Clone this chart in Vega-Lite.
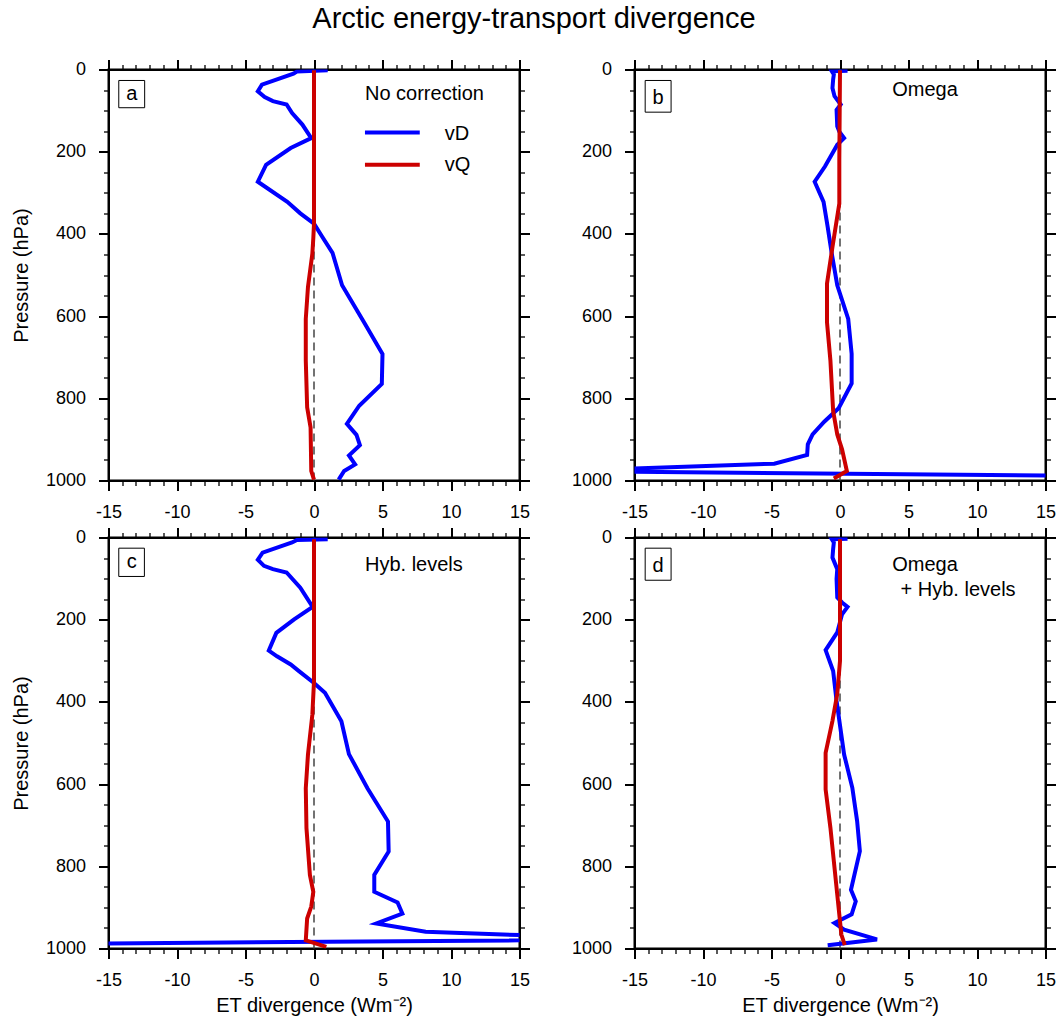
{
  "$schema": "https://vega.github.io/schema/vega-lite/v6.json",
  "padding": {"left": 9.5, "top": 4.5, "right": 0, "bottom": 0},
  "background": "white",
  "title": {"text": "Arctic energy-transport divergence", "fontSize": 29, "font": "Liberation Sans", "fontWeight": "normal", "color": "black", "anchor": "middle", "offset": 24},
  "config": {
    "view": {"stroke": "black", "strokeWidth": 2},
    "axis": {"grid": false, "labelFont": "Liberation Sans", "labelFontSize": 18, "labelColor": "black", "titleFont": "Liberation Sans", "titleFontSize": 20, "titleFontWeight": "normal", "titleColor": "black", "domainColor": "black", "domainWidth": 2, "tickColor": "black", "labelOverlap": false, "labelFlush": false, "labelBound": false, "labelPadding": 13}
  },
  "datasets": {
    "a": [
      {"s":"vD","p":2,"x":1.0},{"s":"vD","p":5,"x":-1.25},{"s":"vD","p":10,"x":-1.5},{"s":"vD","p":37,"x":-3.8},{"s":"vD","p":53,"x":-4.1},{"s":"vD","p":67,"x":-3.6},{"s":"vD","p":77,"x":-3.0},{"s":"vD","p":85,"x":-2.0},{"s":"vD","p":106,"x":-1.6},{"s":"vD","p":134,"x":-0.85},{"s":"vD","p":167,"x":-0.2},{"s":"vD","p":191,"x":-1.7},{"s":"vD","p":232,"x":-3.5},{"s":"vD","p":273,"x":-4.1},{"s":"vD","p":322,"x":-1.95},{"s":"vD","p":350,"x":-1.0},{"s":"vD","p":375,"x":0},{"s":"vD","p":407,"x":0.6},{"s":"vD","p":446,"x":1.35},{"s":"vD","p":525,"x":2.05},{"s":"vD","p":615,"x":3.65},{"s":"vD","p":692,"x":5.0},{"s":"vD","p":765,"x":4.95},{"s":"vD","p":818,"x":3.3},{"s":"vD","p":862,"x":2.4},{"s":"vD","p":889,"x":3.1},{"s":"vD","p":914,"x":3.35},{"s":"vD","p":939,"x":2.55},{"s":"vD","p":961,"x":3.0},{"s":"vD","p":977,"x":2.2},{"s":"vD","p":998,"x":1.8},
      {"s":"vQ","p":2,"x":0},{"s":"vQ","p":375,"x":0},{"s":"vQ","p":410,"x":-0.05},{"s":"vQ","p":448,"x":-0.12},{"s":"vQ","p":529,"x":-0.44},{"s":"vQ","p":607,"x":-0.6},{"s":"vQ","p":708,"x":-0.6},{"s":"vQ","p":822,"x":-0.5},{"s":"vQ","p":871,"x":-0.25},{"s":"vQ","p":977,"x":-0.2},{"s":"vQ","p":998,"x":0}
    ],
    "b": [
      {"s":"vD","p":3,"x":0.55},{"s":"vD","p":4,"x":-0.6},{"s":"vD","p":12,"x":-0.45},{"s":"vD","p":24,"x":-0.5},{"s":"vD","p":45,"x":-0.55},{"s":"vD","p":65,"x":-0.4},{"s":"vD","p":85,"x":0.05},{"s":"vD","p":98,"x":-0.25},{"s":"vD","p":138,"x":-0.2},{"s":"vD","p":151,"x":-0.05},{"s":"vD","p":167,"x":0.3},{"s":"vD","p":183,"x":-0.2},{"s":"vD","p":204,"x":-0.55},{"s":"vD","p":236,"x":-1.1},{"s":"vD","p":273,"x":-1.85},{"s":"vD","p":322,"x":-1.2},{"s":"vD","p":383,"x":-0.9},{"s":"vD","p":448,"x":-0.6},{"s":"vD","p":525,"x":-0.2},{"s":"vD","p":607,"x":0.6},{"s":"vD","p":692,"x":0.85},{"s":"vD","p":764,"x":0.85},{"s":"vD","p":824,"x":-0.1},{"s":"vD","p":857,"x":-1.15},{"s":"vD","p":888,"x":-2.0},{"s":"vD","p":912,"x":-2.35},{"s":"vD","p":938,"x":-2.4},{"s":"vD","p":959,"x":-4.8},{"s":"vD","p":977.4,"x":-20.4},{"s":"vD","p":992.5,"x":30},
      {"s":"vQ","p":2,"x":0},{"s":"vQ","p":220,"x":-0.05},{"s":"vQ","p":326,"x":-0.05},{"s":"vQ","p":432,"x":-0.55},{"s":"vQ","p":521,"x":-0.95},{"s":"vQ","p":615,"x":-0.95},{"s":"vQ","p":708,"x":-0.7},{"s":"vQ","p":831,"x":-0.5},{"s":"vQ","p":888,"x":-0.2},{"s":"vQ","p":924,"x":0.15},{"s":"vQ","p":977,"x":0.5},{"s":"vQ","p":995,"x":-0.45}
    ],
    "c": [
      {"s":"vD","p":4,"x":1.0},{"s":"vD","p":6,"x":-1.25},{"s":"vD","p":12,"x":-1.6},{"s":"vD","p":37,"x":-3.75},{"s":"vD","p":54,"x":-4.1},{"s":"vD","p":69,"x":-3.65},{"s":"vD","p":77,"x":-3.0},{"s":"vD","p":85,"x":-2.0},{"s":"vD","p":122,"x":-1.0},{"s":"vD","p":169,"x":-0.1},{"s":"vD","p":199,"x":-1.45},{"s":"vD","p":232,"x":-2.75},{"s":"vD","p":275,"x":-3.3},{"s":"vD","p":289,"x":-2.7},{"s":"vD","p":309,"x":-1.7},{"s":"vD","p":325,"x":-1.1},{"s":"vD","p":354,"x":0},{"s":"vD","p":378,"x":0.8},{"s":"vD","p":447,"x":2.0},{"s":"vD","p":527,"x":2.55},{"s":"vD","p":610,"x":3.9},{"s":"vD","p":691,"x":5.4},{"s":"vD","p":764,"x":5.45},{"s":"vD","p":821,"x":4.4},{"s":"vD","p":862,"x":4.4},{"s":"vD","p":888,"x":6.1},{"s":"vD","p":915,"x":6.45},{"s":"vD","p":939,"x":4.55},{"s":"vD","p":959,"x":8.15},{"s":"vD","p":978,"x":23.7},{"s":"vD","p":991.5,"x":-30},
      {"s":"vQ","p":4,"x":0},{"s":"vQ","p":350,"x":0},{"s":"vQ","p":431,"x":-0.12},{"s":"vQ","p":528,"x":-0.44},{"s":"vQ","p":610,"x":-0.6},{"s":"vQ","p":707,"x":-0.55},{"s":"vQ","p":821,"x":-0.3},{"s":"vQ","p":862,"x":-0.05},{"s":"vQ","p":898,"x":-0.2},{"s":"vQ","p":927,"x":-0.5},{"s":"vQ","p":980,"x":-0.6},{"s":"vQ","p":996,"x":0.9}
    ],
    "d": [
      {"s":"vD","p":3,"x":0.55},{"s":"vD","p":4,"x":-0.6},{"s":"vD","p":12,"x":-0.45},{"s":"vD","p":28,"x":-0.5},{"s":"vD","p":49,"x":-0.55},{"s":"vD","p":69,"x":-0.3},{"s":"vD","p":77,"x":-0.2},{"s":"vD","p":101,"x":-0.25},{"s":"vD","p":146,"x":-0.2},{"s":"vD","p":158,"x":0.15},{"s":"vD","p":169,"x":0.55},{"s":"vD","p":187,"x":0.15},{"s":"vD","p":231,"x":-0.2},{"s":"vD","p":274,"x":-1.05},{"s":"vD","p":325,"x":-0.5},{"s":"vD","p":398,"x":-0.25},{"s":"vD","p":528,"x":0.3},{"s":"vD","p":609,"x":0.9},{"s":"vD","p":690,"x":1.25},{"s":"vD","p":763,"x":1.45},{"s":"vD","p":857,"x":0.8},{"s":"vD","p":885,"x":1.15},{"s":"vD","p":917,"x":0.85},{"s":"vD","p":938,"x":-0.4},{"s":"vD","p":954,"x":0.3},{"s":"vD","p":978,"x":2.7},{"s":"vD","p":992,"x":-0.9},
      {"s":"vQ","p":4,"x":0},{"s":"vQ","p":300,"x":0},{"s":"vQ","p":381,"x":-0.2},{"s":"vQ","p":446,"x":-0.55},{"s":"vQ","p":524,"x":-1.05},{"s":"vQ","p":613,"x":-1.05},{"s":"vQ","p":706,"x":-0.7},{"s":"vQ","p":869,"x":-0.2},{"s":"vQ","p":966,"x":0.1},{"s":"vQ","p":992,"x":0.35}
    ]
  },
  "columns": 2,
  "bounds": "flush",
  "spacing": {"row": 57, "column": 115},
  "concat": [
    {
      "width": 411, "height": 411,
      "resolve": {"axis": {"x": "independent", "y": "independent"}},
      "layer": [
        {"data": {"values": [{}]}, "mark": {"type": "rule", "strokeDash": [8, 5], "color": "#444444", "strokeWidth": 1.5},
         "encoding": {
           "x": {"datum": 0, "type": "quantitative", "scale": {"domain": [-15, 15], "nice": false, "zero": false}, "axis": {"orient": "top", "values": [-15,-14,-13,-12,-11,-10,-9,-8,-7,-6,-5,-4,-3,-2,-1,0,1,2,3,4,5,6,7,8,9,10,11,12,13,14,15], "labels": false, "title": null, "tickSize": {"condition": {"test": "datum.value % 5 === 0", "value": 10}, "value": 5}, "tickWidth": {"condition": {"test": "datum.value % 5 === 0", "value": 2}, "value": 1.3}}},
           "y": {"datum": 0, "type": "quantitative", "scale": {"domain": [0, 1000], "nice": false, "reverse": true}, "axis": {"orient": "right", "values": [0,50,100,150,200,250,300,350,400,450,500,550,600,650,700,750,800,850,900,950,1000], "labels": false, "title": null, "tickSize": {"condition": {"test": "datum.value % 200 === 0", "value": 10}, "value": 5}, "tickWidth": {"condition": {"test": "datum.value % 200 === 0", "value": 2}, "value": 1.3}}},
           "y2": {"datum": 1000}
         }},
        {"data": {"name": "a"}, "mark": {"type": "line", "strokeWidth": 4, "clip": true},
         "encoding": {
           "x": {"field": "x", "type": "quantitative", "axis": {"orient": "bottom", "values": [-15,-14,-13,-12,-11,-10,-9,-8,-7,-6,-5,-4,-3,-2,-1,0,1,2,3,4,5,6,7,8,9,10,11,12,13,14,15], "labelExpr": "datum.value % 5 === 0 ? '' + datum.value : ''", "title": null, "tickSize": {"condition": {"test": "datum.value % 5 === 0", "value": 10}, "value": 5}, "tickWidth": {"condition": {"test": "datum.value % 5 === 0", "value": 2}, "value": 1.3}}},
           "y": {"field": "p", "type": "quantitative", "axis": {"orient": "left", "values": [0,50,100,150,200,250,300,350,400,450,500,550,600,650,700,750,800,850,900,950,1000], "labelExpr": "datum.value % 200 === 0 ? '' + datum.value : ''", "title": "Pressure (hPa)", "titlePadding": 14, "tickSize": {"condition": {"test": "datum.value % 200 === 0", "value": 10}, "value": 5}, "tickWidth": {"condition": {"test": "datum.value % 200 === 0", "value": 2}, "value": 1.3}}},
           "color": {"field": "s", "type": "nominal", "scale": {"domain": ["vD", "vQ"], "range": ["#0000ff", "#cc0000"]}, "legend": null},
           "order": {"field": "p", "type": "quantitative"}
         }},
        {"data": {"values": [{}]}, "mark": {"type": "rect", "fill": "white", "stroke": "black", "strokeWidth": 1},
         "encoding": {"x": {"datum": -14.25, "type": "quantitative", "axis": null}, "x2": {"datum": -12.36}, "y": {"datum": 26.7, "type": "quantitative", "axis": null}, "y2": {"datum": 93}}},
        {"data": {"values": [{}]}, "mark": {"type": "text", "align": "center", "baseline": "alphabetic", "fontSize": 20, "font": "Liberation Sans", "color": "black"},
         "encoding": {"x": {"datum": -13.3, "type": "quantitative", "axis": null}, "y": {"datum": 73.6, "type": "quantitative", "axis": null}, "text": {"value": "a"}}},
        {"data": {"values": [{}]}, "mark": {"type": "text", "align": "left", "baseline": "alphabetic", "fontSize": 20, "font": "Liberation Sans", "color": "black"},
         "encoding": {"x": {"datum": 3.72, "type": "quantitative", "axis": null}, "y": {"datum": 73, "type": "quantitative", "axis": null}, "text": {"value": "No correction"}}},
        {"data": {"values": [{}]}, "mark": {"type": "rule", "color": "#0000ff", "strokeWidth": 4},
         "encoding": {"x": {"datum": 3.72, "type": "quantitative", "axis": null}, "x2": {"datum": 7.72}, "y": {"datum": 153, "type": "quantitative", "axis": null}}},
        {"data": {"values": [{}]}, "mark": {"type": "rule", "color": "#cc0000", "strokeWidth": 4},
         "encoding": {"x": {"datum": 3.72, "type": "quantitative", "axis": null}, "x2": {"datum": 7.72}, "y": {"datum": 231.6, "type": "quantitative", "axis": null}}},
        {"data": {"values": [{}]}, "mark": {"type": "text", "align": "left", "baseline": "alphabetic", "fontSize": 20, "font": "Liberation Sans", "color": "black"},
         "encoding": {"x": {"datum": 9.54, "type": "quantitative", "axis": null}, "y": {"datum": 172.5, "type": "quantitative", "axis": null}, "text": {"value": "vD"}}},
        {"data": {"values": [{}]}, "mark": {"type": "text", "align": "left", "baseline": "alphabetic", "fontSize": 20, "font": "Liberation Sans", "color": "black"},
         "encoding": {"x": {"datum": 9.54, "type": "quantitative", "axis": null}, "y": {"datum": 248, "type": "quantitative", "axis": null}, "text": {"value": "vQ"}}}
      ]
    },
    {
      "width": 411, "height": 411,
      "resolve": {"axis": {"x": "independent", "y": "independent"}},
      "layer": [
        {"data": {"values": [{}]}, "mark": {"type": "rule", "strokeDash": [8, 5], "color": "#444444", "strokeWidth": 1.5},
         "encoding": {
           "x": {"datum": 0, "type": "quantitative", "scale": {"domain": [-15, 15], "nice": false, "zero": false}, "axis": {"orient": "top", "values": [-15,-14,-13,-12,-11,-10,-9,-8,-7,-6,-5,-4,-3,-2,-1,0,1,2,3,4,5,6,7,8,9,10,11,12,13,14,15], "labels": false, "title": null, "tickSize": {"condition": {"test": "datum.value % 5 === 0", "value": 10}, "value": 5}, "tickWidth": {"condition": {"test": "datum.value % 5 === 0", "value": 2}, "value": 1.3}}},
           "y": {"datum": 0, "type": "quantitative", "scale": {"domain": [0, 1000], "nice": false, "reverse": true}, "axis": {"orient": "right", "values": [0,50,100,150,200,250,300,350,400,450,500,550,600,650,700,750,800,850,900,950,1000], "labels": false, "title": null, "tickSize": {"condition": {"test": "datum.value % 200 === 0", "value": 10}, "value": 5}, "tickWidth": {"condition": {"test": "datum.value % 200 === 0", "value": 2}, "value": 1.3}}},
           "y2": {"datum": 1000}
         }},
        {"data": {"name": "b"}, "mark": {"type": "line", "strokeWidth": 4, "clip": true},
         "encoding": {
           "x": {"field": "x", "type": "quantitative", "axis": {"orient": "bottom", "values": [-15,-14,-13,-12,-11,-10,-9,-8,-7,-6,-5,-4,-3,-2,-1,0,1,2,3,4,5,6,7,8,9,10,11,12,13,14,15], "labelExpr": "datum.value % 5 === 0 ? '' + datum.value : ''", "title": null, "tickSize": {"condition": {"test": "datum.value % 5 === 0", "value": 10}, "value": 5}, "tickWidth": {"condition": {"test": "datum.value % 5 === 0", "value": 2}, "value": 1.3}}},
           "y": {"field": "p", "type": "quantitative", "axis": {"orient": "left", "values": [0,50,100,150,200,250,300,350,400,450,500,550,600,650,700,750,800,850,900,950,1000], "labelExpr": "datum.value % 200 === 0 ? '' + datum.value : ''", "title": null, "tickSize": {"condition": {"test": "datum.value % 200 === 0", "value": 10}, "value": 5}, "tickWidth": {"condition": {"test": "datum.value % 200 === 0", "value": 2}, "value": 1.3}}},
           "color": {"field": "s", "type": "nominal", "scale": {"domain": ["vD", "vQ"], "range": ["#0000ff", "#cc0000"]}, "legend": null},
           "order": {"field": "p", "type": "quantitative"}
         }},
        {"data": {"values": [{}]}, "mark": {"type": "rect", "fill": "white", "stroke": "black", "strokeWidth": 1},
         "encoding": {"x": {"datum": -14.22, "type": "quantitative", "axis": null}, "x2": {"datum": -12.33}, "y": {"datum": 26.7, "type": "quantitative", "axis": null}, "y2": {"datum": 103.8}}},
        {"data": {"values": [{}]}, "mark": {"type": "text", "align": "center", "baseline": "alphabetic", "fontSize": 20, "font": "Liberation Sans", "color": "black"},
         "encoding": {"x": {"datum": -13.28, "type": "quantitative", "axis": null}, "y": {"datum": 83.4, "type": "quantitative", "axis": null}, "text": {"value": "b"}}},
        {"data": {"values": [{}]}, "mark": {"type": "text", "align": "left", "baseline": "alphabetic", "fontSize": 20, "font": "Liberation Sans", "color": "black"},
         "encoding": {"x": {"datum": 3.81, "type": "quantitative", "axis": null}, "y": {"datum": 65, "type": "quantitative", "axis": null}, "text": {"value": "Omega"}}}
      ]
    },
    {
      "width": 411, "height": 411,
      "resolve": {"axis": {"x": "independent", "y": "independent"}},
      "layer": [
        {"data": {"values": [{}]}, "mark": {"type": "rule", "strokeDash": [8, 5], "color": "#444444", "strokeWidth": 1.5},
         "encoding": {
           "x": {"datum": 0, "type": "quantitative", "scale": {"domain": [-15, 15], "nice": false, "zero": false}, "axis": {"orient": "top", "values": [-15,-14,-13,-12,-11,-10,-9,-8,-7,-6,-5,-4,-3,-2,-1,0,1,2,3,4,5,6,7,8,9,10,11,12,13,14,15], "labels": false, "title": null, "tickSize": {"condition": {"test": "datum.value % 5 === 0", "value": 10}, "value": 5}, "tickWidth": {"condition": {"test": "datum.value % 5 === 0", "value": 2}, "value": 1.3}}},
           "y": {"datum": 0, "type": "quantitative", "scale": {"domain": [0, 1000], "nice": false, "reverse": true}, "axis": {"orient": "right", "values": [0,50,100,150,200,250,300,350,400,450,500,550,600,650,700,750,800,850,900,950,1000], "labels": false, "title": null, "tickSize": {"condition": {"test": "datum.value % 200 === 0", "value": 10}, "value": 5}, "tickWidth": {"condition": {"test": "datum.value % 200 === 0", "value": 2}, "value": 1.3}}},
           "y2": {"datum": 1000}
         }},
        {"data": {"name": "c"}, "mark": {"type": "line", "strokeWidth": 4, "clip": true},
         "encoding": {
           "x": {"field": "x", "type": "quantitative", "axis": {"orient": "bottom", "values": [-15,-14,-13,-12,-11,-10,-9,-8,-7,-6,-5,-4,-3,-2,-1,0,1,2,3,4,5,6,7,8,9,10,11,12,13,14,15], "labelExpr": "datum.value % 5 === 0 ? '' + datum.value : ''", "title": "ET divergence (Wm⁻²)", "titlePadding": 6, "tickSize": {"condition": {"test": "datum.value % 5 === 0", "value": 10}, "value": 5}, "tickWidth": {"condition": {"test": "datum.value % 5 === 0", "value": 2}, "value": 1.3}}},
           "y": {"field": "p", "type": "quantitative", "axis": {"orient": "left", "values": [0,50,100,150,200,250,300,350,400,450,500,550,600,650,700,750,800,850,900,950,1000], "labelExpr": "datum.value % 200 === 0 ? '' + datum.value : ''", "title": "Pressure (hPa)", "titlePadding": 14, "tickSize": {"condition": {"test": "datum.value % 200 === 0", "value": 10}, "value": 5}, "tickWidth": {"condition": {"test": "datum.value % 200 === 0", "value": 2}, "value": 1.3}}},
           "color": {"field": "s", "type": "nominal", "scale": {"domain": ["vD", "vQ"], "range": ["#0000ff", "#cc0000"]}, "legend": null},
           "order": {"field": "p", "type": "quantitative"}
         }},
        {"data": {"values": [{}]}, "mark": {"type": "rect", "fill": "white", "stroke": "black", "strokeWidth": 1},
         "encoding": {"x": {"datum": -14.25, "type": "quantitative", "axis": null}, "x2": {"datum": -12.38}, "y": {"datum": 26, "type": "quantitative", "axis": null}, "y2": {"datum": 94.8}}},
        {"data": {"values": [{}]}, "mark": {"type": "text", "align": "center", "baseline": "alphabetic", "fontSize": 20, "font": "Liberation Sans", "color": "black"},
         "encoding": {"x": {"datum": -13.3, "type": "quantitative", "axis": null}, "y": {"datum": 74.6, "type": "quantitative", "axis": null}, "text": {"value": "c"}}},
        {"data": {"values": [{}]}, "mark": {"type": "text", "align": "left", "baseline": "alphabetic", "fontSize": 20, "font": "Liberation Sans", "color": "black"},
         "encoding": {"x": {"datum": 3.72, "type": "quantitative", "axis": null}, "y": {"datum": 81, "type": "quantitative", "axis": null}, "text": {"value": "Hyb. levels"}}}
      ]
    },
    {
      "width": 411, "height": 411,
      "resolve": {"axis": {"x": "independent", "y": "independent"}},
      "layer": [
        {"data": {"values": [{}]}, "mark": {"type": "rule", "strokeDash": [8, 5], "color": "#444444", "strokeWidth": 1.5},
         "encoding": {
           "x": {"datum": 0, "type": "quantitative", "scale": {"domain": [-15, 15], "nice": false, "zero": false}, "axis": {"orient": "top", "values": [-15,-14,-13,-12,-11,-10,-9,-8,-7,-6,-5,-4,-3,-2,-1,0,1,2,3,4,5,6,7,8,9,10,11,12,13,14,15], "labels": false, "title": null, "tickSize": {"condition": {"test": "datum.value % 5 === 0", "value": 10}, "value": 5}, "tickWidth": {"condition": {"test": "datum.value % 5 === 0", "value": 2}, "value": 1.3}}},
           "y": {"datum": 0, "type": "quantitative", "scale": {"domain": [0, 1000], "nice": false, "reverse": true}, "axis": {"orient": "right", "values": [0,50,100,150,200,250,300,350,400,450,500,550,600,650,700,750,800,850,900,950,1000], "labels": false, "title": null, "tickSize": {"condition": {"test": "datum.value % 200 === 0", "value": 10}, "value": 5}, "tickWidth": {"condition": {"test": "datum.value % 200 === 0", "value": 2}, "value": 1.3}}},
           "y2": {"datum": 1000}
         }},
        {"data": {"name": "d"}, "mark": {"type": "line", "strokeWidth": 4, "clip": true},
         "encoding": {
           "x": {"field": "x", "type": "quantitative", "axis": {"orient": "bottom", "values": [-15,-14,-13,-12,-11,-10,-9,-8,-7,-6,-5,-4,-3,-2,-1,0,1,2,3,4,5,6,7,8,9,10,11,12,13,14,15], "labelExpr": "datum.value % 5 === 0 ? '' + datum.value : ''", "title": "ET divergence (Wm⁻²)", "titlePadding": 6, "tickSize": {"condition": {"test": "datum.value % 5 === 0", "value": 10}, "value": 5}, "tickWidth": {"condition": {"test": "datum.value % 5 === 0", "value": 2}, "value": 1.3}}},
           "y": {"field": "p", "type": "quantitative", "axis": {"orient": "left", "values": [0,50,100,150,200,250,300,350,400,450,500,550,600,650,700,750,800,850,900,950,1000], "labelExpr": "datum.value % 200 === 0 ? '' + datum.value : ''", "title": null, "tickSize": {"condition": {"test": "datum.value % 200 === 0", "value": 10}, "value": 5}, "tickWidth": {"condition": {"test": "datum.value % 200 === 0", "value": 2}, "value": 1.3}}},
           "color": {"field": "s", "type": "nominal", "scale": {"domain": ["vD", "vQ"], "range": ["#0000ff", "#cc0000"]}, "legend": null},
           "order": {"field": "p", "type": "quantitative"}
         }},
        {"data": {"values": [{}]}, "mark": {"type": "rect", "fill": "white", "stroke": "black", "strokeWidth": 1},
         "encoding": {"x": {"datum": -14.22, "type": "quantitative", "axis": null}, "x2": {"datum": -12.33}, "y": {"datum": 26, "type": "quantitative", "axis": null}, "y2": {"datum": 104}}},
        {"data": {"values": [{}]}, "mark": {"type": "text", "align": "center", "baseline": "alphabetic", "fontSize": 20, "font": "Liberation Sans", "color": "black"},
         "encoding": {"x": {"datum": -13.28, "type": "quantitative", "axis": null}, "y": {"datum": 84, "type": "quantitative", "axis": null}, "text": {"value": "d"}}},
        {"data": {"values": [{}]}, "mark": {"type": "text", "align": "left", "baseline": "alphabetic", "fontSize": 20, "font": "Liberation Sans", "color": "black"},
         "encoding": {"x": {"datum": 3.81, "type": "quantitative", "axis": null}, "y": {"datum": 81, "type": "quantitative", "axis": null}, "text": {"value": "Omega"}}},
        {"data": {"values": [{}]}, "mark": {"type": "text", "align": "left", "baseline": "alphabetic", "fontSize": 20, "font": "Liberation Sans", "color": "black"},
         "encoding": {"x": {"datum": 4.42, "type": "quantitative", "axis": null}, "y": {"datum": 143, "type": "quantitative", "axis": null}, "text": {"value": "+ Hyb. levels"}}}
      ]
    }
  ]
}
